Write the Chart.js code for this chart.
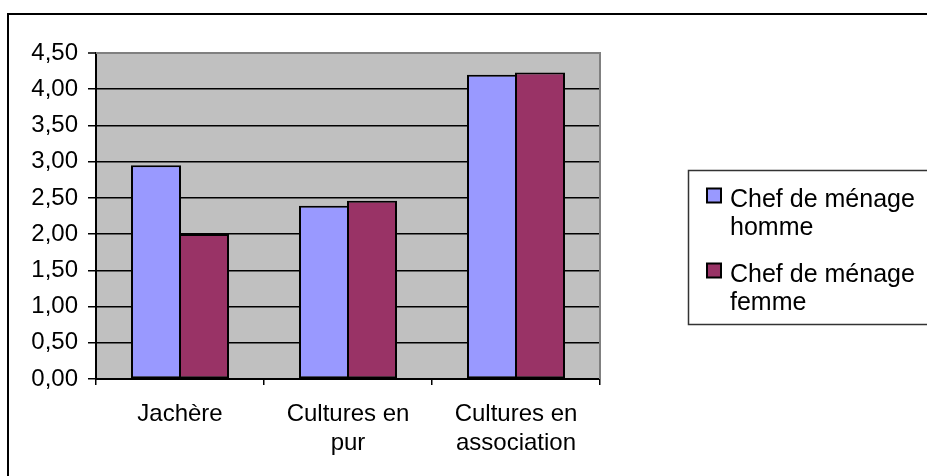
<!DOCTYPE html>
<html>
<head>
<meta charset="utf-8">
<style>
  html, body { margin: 0; padding: 0; background: #fff; }
  canvas { display: block; }
</style>
<script src="https://cdn.jsdelivr.net/npm/chart.js@4.4.1/dist/chart.umd.min.js"></script>
</head>
<body>
<canvas id="surfaceChart" width="927" height="476"></canvas>
<script>
const categories = [['Jachère'], ['Cultures en', 'pur'], ['Cultures en', 'association']];
const seriesNames = [['Chef de ménage', 'homme'], ['Chef de ménage', 'femme']];
const hommeValues = [2.95, 2.39, 4.20];
const femmeValues = [2.00, 2.46, 4.23];
const yTickLabels = ['0,00', '0,50', '1,00', '1,50', '2,00', '2,50', '3,00', '3,50', '4,00', '4,50'];

const FONT = '"Liberation Sans", Arial, sans-serif';

// gray plot area, right border, outer frame
const frame = {
  id: 'frame',
  beforeDraw(chart) {
    const { ctx, chartArea: a } = chart;
    ctx.save();
    ctx.fillStyle = '#C0C0C0';
    ctx.fillRect(a.left, a.top, a.right - a.left, a.bottom - a.top);
    ctx.restore();
  },
  beforeDatasetsDraw(chart) {
    const { ctx, chartArea: a } = chart;
    ctx.save();
    ctx.strokeStyle = '#808080';
    ctx.lineWidth = 2;
    ctx.beginPath();
    ctx.moveTo(a.left, a.top);
    ctx.lineTo(a.right, a.top);
    ctx.lineTo(a.right, a.bottom);
    ctx.stroke();
    ctx.restore();
  },
  afterDraw(chart) {
    const ctx = chart.ctx;
    ctx.save();
    ctx.strokeStyle = '#000';
    ctx.lineWidth = 2;
    ctx.strokeRect(8, 14, 1000, 1000);
    ctx.restore();
  }
};

// Excel style legend box on the right
const sideLegend = {
  id: 'sideLegend',
  afterDraw(chart) {
    const ctx = chart.ctx;
    ctx.save();
    ctx.strokeStyle = '#333';
    ctx.lineWidth = 1.5;
    ctx.strokeRect(688.5, 170.5, 300, 154);
    ctx.font = '25px ' + FONT;
    ctx.fillStyle = '#000';
    ctx.textBaseline = 'alphabetic';
    ctx.textAlign = 'left';
    chart.data.datasets.forEach((ds, i) => {
      const base = 206.5 + i * 75;
      ctx.fillStyle = ds.backgroundColor;
      ctx.fillRect(707, base - 18, 14, 14);
      ctx.strokeStyle = '#000';
      ctx.lineWidth = 2;
      ctx.strokeRect(707, base - 18, 14, 14);
      ctx.fillStyle = '#000';
      ds.label.forEach((line, j) => {
        ctx.fillText(line, 730, base + j * 28.5);
      });
    });
    ctx.restore();
  }
};

const ctx = document.getElementById('surfaceChart').getContext('2d');

const surfaceChart = new Chart(ctx, {
  type: 'bar',
  data: {
    labels: categories,
    datasets: [{
      label: seriesNames[0],
      data: hommeValues,
      backgroundColor: '#9999FF',
      borderColor: '#000',
      borderWidth: 2,
      borderSkipped: false
    }, {
      label: seriesNames[1],
      data: femmeValues,
      backgroundColor: '#993366',
      borderColor: '#000',
      borderWidth: 2,
      borderSkipped: false
    }]
  },
  options: {
    responsive: false,
    animation: false,
    categoryPercentage: 4 / 7,
    barPercentage: 50 / 48,
    layout: { padding: { top: 53, right: 327, left: 0, bottom: 0 } },
    plugins: {
      legend: { display: false },
      tooltip: { enabled: false }
    },
    scales: {
      y: {
        min: 0,
        max: 4.5,
        afterFit: scale => { scale.width = 96; },
        ticks: {
          stepSize: 0.5,
          color: '#000',
          padding: 10,
          font: { family: FONT, size: 24 },
          callback: (value, index) => yTickLabels[index]
        },
        grid: {
          color: c => (c.tick && c.tick.value === 4.5) ? '#808080' : '#000',
          lineWidth: c => (c.tick && c.tick.value === 4.5) ? 2 : 1.5,
          tickColor: '#000',
          tickWidth: 1.5,
          tickLength: 8
        },
        border: { color: '#000', width: 2 }
      },
      x: {
        afterFit: scale => { scale.height = 97; },
        ticks: {
          color: '#000',
          padding: 15,
          maxRotation: 0,
          font: { family: FONT, size: 24, lineHeight: 1.2 }
        },
        grid: {
          offset: true,
          drawOnChartArea: false,
          color: '#000',
          lineWidth: 1.5,
          tickLength: 6
        },
        border: { color: '#000', width: 2 }
      }
    }
  },
  plugins: [frame, sideLegend]
});
</script>
</body>
</html>
